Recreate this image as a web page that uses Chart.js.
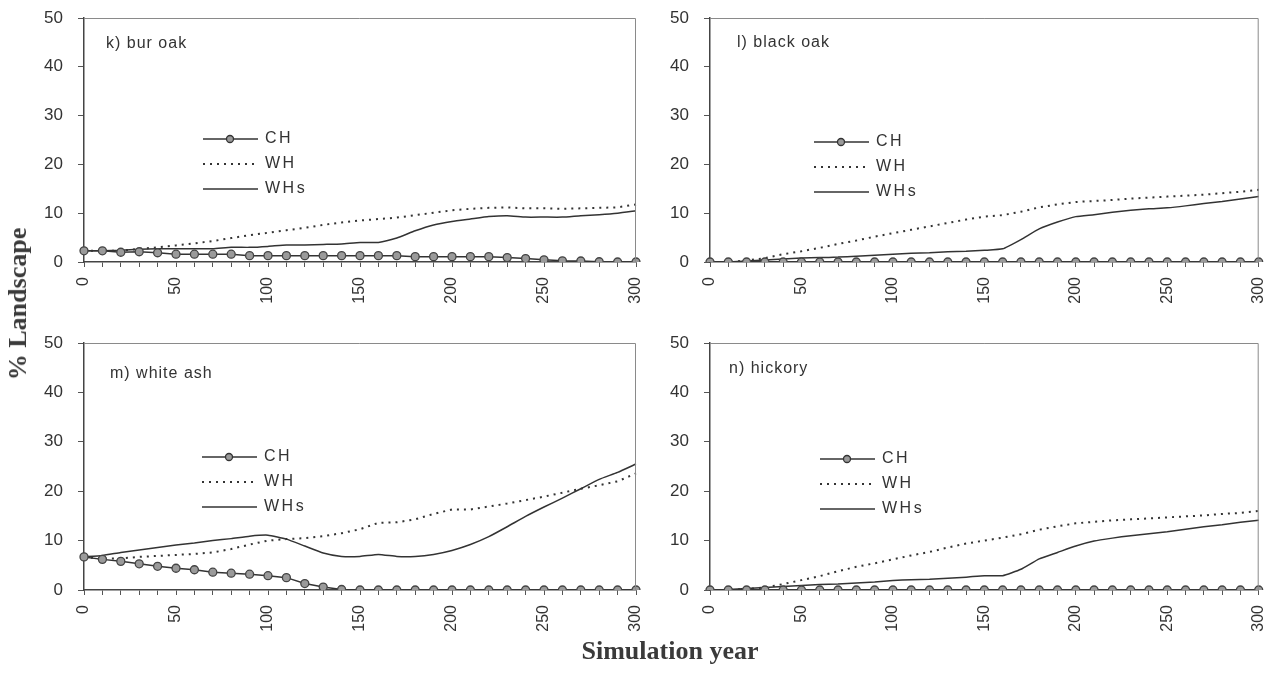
<!DOCTYPE html>
<html>
<head>
<meta charset="utf-8">
<script src="https://cdn.jsdelivr.net/npm/chart.js@4/dist/chart.umd.min.js"></script>
<style>
  html, body { margin: 0; padding: 0; background: #fff; overflow: hidden; }
  body { width: 1264px; height: 673px; position: relative; }
  .panel { position: absolute; }
  .ytitle {
    position: absolute; left: 18px; top: 304px;
    transform: translate(-50%, -50%) rotate(-90deg);
    font: bold 26px "Liberation Serif", "DejaVu Serif", serif; color: #3a3a3a; white-space: nowrap;
  }
  .xtitle {
    position: absolute; left: 670px; top: 651px;
    transform: translate(-50%, -50%);
    font: bold 26px "Liberation Serif", "DejaVu Serif", serif; color: #3a3a3a; white-space: nowrap;
  }
</style>
</head>
<body>
<div class="panel" style="left:24px;top:0px;width:622px;height:314px"><canvas id="c1"></canvas></div>
<div class="panel" style="left:650px;top:0px;width:614px;height:314px"><canvas id="c2"></canvas></div>
<div class="panel" style="left:24px;top:325px;width:622px;height:317px"><canvas id="c3"></canvas></div>
<div class="panel" style="left:650px;top:325px;width:614px;height:317px"><canvas id="c4"></canvas></div>
<div class="ytitle">% Landscape</div>
<div class="xtitle">Simulation year</div>

<script>
// simulation years (every 10 years)
const years = [0, 10, 20, 30, 40, 50, 60, 70, 80, 90, 100, 110, 120, 130, 140, 150,
               160, 170, 180, 190, 200, 210, 220, 230, 240, 250, 260, 270, 280, 290, 300];
const yTicks = [0, 10, 20, 30, 40, 50];
const seriesNames = ["CH", "WH", "WHs"];
const panelTitles = ["k) bur oak", "l) black oak", "m) white ash", "n) hickory"];

// k) bur oak
const burOakCH  = [2.3, 2.3, 2.0, 2.1, 1.9, 1.6, 1.6, 1.6, 1.6, 1.3, 1.3, 1.3, 1.3, 1.3, 1.3, 1.3,
                   1.3, 1.3, 1.1, 1.1, 1.1, 1.1, 1.1, 0.9, 0.7, 0.45, 0.25, 0.2, 0.05, 0, 0];
const burOakWH  = [2.3, 2.3, 2.3, 2.7, 3.0, 3.4, 3.8, 4.3, 4.9, 5.5, 6.0, 6.5, 7.0, 7.6, 8.1, 8.5,
                   8.8, 9.1, 9.6, 10.1, 10.6, 10.9, 11.1, 11.2, 11.0, 11.0, 10.9, 11.0, 11.1, 11.2, 11.8];
const burOakWHs = [2.3, 2.3, 2.4, 2.6, 2.7, 2.7, 2.7, 2.7, 3.0, 3.0, 3.2, 3.5, 3.5, 3.6, 3.7, 4.0,
                   4.0, 4.9, 6.4, 7.6, 8.3, 8.8, 9.3, 9.5, 9.2, 9.2, 9.2, 9.5, 9.7, 10.0, 10.5];

// l) black oak
const blackOakCH  = [0, 0, 0, 0, 0, 0, 0, 0, 0, 0, 0, 0, 0, 0, 0, 0,
                     0, 0, 0, 0, 0, 0, 0, 0, 0, 0, 0, 0, 0, 0, 0];
const blackOakWH  = [0, 0, 0.3, 0.8, 1.6, 2.2, 2.9, 3.7, 4.4, 5.2, 5.9, 6.6, 7.3, 8.0, 8.7, 9.3,
                     9.6, 10.3, 11.2, 11.8, 12.3, 12.5, 12.7, 13.0, 13.2, 13.4, 13.6, 13.8, 14.1, 14.4, 14.8];
const blackOakWHs = [0, 0, 0.2, 0.4, 0.6, 0.8, 0.9, 1.0, 1.2, 1.4, 1.6, 1.8, 1.9, 2.1, 2.2, 2.4,
                     2.7, 4.6, 6.8, 8.2, 9.3, 9.7, 10.2, 10.6, 10.9, 11.1, 11.5, 12.0, 12.4, 12.9, 13.4];

// m) white ash
const whiteAshCH  = [6.7, 6.2, 5.8, 5.3, 4.8, 4.4, 4.1, 3.6, 3.4, 3.2, 2.9, 2.5, 1.3, 0.6, 0.1, 0,
                     0, 0, 0, 0, 0, 0, 0, 0, 0, 0, 0, 0, 0, 0, 0];
const whiteAshWH  = [6.7, 6.3, 6.4, 6.7, 6.9, 7.1, 7.3, 7.6, 8.3, 9.2, 10.0, 10.3, 10.5, 10.9, 11.5, 12.3,
                     13.6, 13.7, 14.3, 15.4, 16.3, 16.3, 16.9, 17.5, 18.2, 18.9, 19.7, 20.5, 21.2, 22.0, 23.6];
const whiteAshWHs = [6.7, 7.0, 7.6, 8.1, 8.6, 9.1, 9.5, 10.0, 10.4, 10.9, 11.1, 10.3, 8.9, 7.5, 6.8, 6.8,
                     7.2, 6.8, 6.8, 7.2, 8.0, 9.2, 10.8, 12.8, 14.9, 16.8, 18.6, 20.5, 22.4, 23.8, 25.5];

// n) hickory
const hickoryCH  = [0, 0, 0, 0, 0, 0, 0, 0, 0, 0, 0, 0, 0, 0, 0, 0,
                    0, 0, 0, 0, 0, 0, 0, 0, 0, 0, 0, 0, 0, 0, 0];
const hickoryWH  = [0, 0, 0.2, 0.5, 1.2, 2.0, 2.8, 3.8, 4.7, 5.4, 6.2, 7.0, 7.7, 8.6, 9.4, 10.0,
                    10.6, 11.3, 12.2, 12.9, 13.5, 13.8, 14.1, 14.3, 14.5, 14.7, 14.9, 15.1, 15.4, 15.6, 16.0];
const hickoryWHs = [0, 0.1, 0.3, 0.5, 0.7, 0.9, 1.1, 1.2, 1.4, 1.6, 1.9, 2.1, 2.2, 2.4, 2.6, 2.9,
                    2.9, 4.2, 6.3, 7.6, 8.9, 9.9, 10.5, 11.0, 11.4, 11.8, 12.3, 12.8, 13.2, 13.7, 14.1];

const INK = "#333";
const FRAME = "#8a8a8a";
const SANS = "'Liberation Sans', Arial, sans-serif";

// frame, panel title and in-plot legend
const panelDecor = {
    id: "panelDecor",
    afterDraw(chart, args, opts) {
        const { ctx, chartArea: a } = chart;
        ctx.save();
        ctx.strokeStyle = FRAME;
        ctx.lineWidth = 1;
        ctx.beginPath();
        ctx.moveTo(a.left, a.top + 0.5);
        ctx.lineTo(a.right - 0.5, a.top + 0.5);
        ctx.lineTo(a.right - 0.5, a.bottom);
        ctx.stroke();

        ctx.fillStyle = INK;
        ctx.textBaseline = "middle";
        ctx.textAlign = "left";
        ctx.font = "16px " + SANS;
        ctx.letterSpacing = "1px";
        ctx.fillText(opts.title, a.left + opts.titleX, a.top + opts.titleY);

        ctx.letterSpacing = "2.5px";
        ctx.strokeStyle = INK;
        const lx = a.left + opts.legX;
        seriesNames.forEach((name, i) => {
            const y = a.top + opts.legY + i * 25;
            ctx.lineWidth = i === 1 ? 2 : 1.5;
            ctx.setLineDash(i === 1 ? [2, 5] : []);
            ctx.beginPath();
            ctx.moveTo(lx, y);
            ctx.lineTo(lx + 55, y);
            ctx.stroke();
            ctx.setLineDash([]);
            if (i === 0) {
                ctx.beginPath();
                ctx.arc(lx + 27, y, 3.5, 0, Math.PI * 2);
                ctx.fillStyle = "#9a9a9a";
                ctx.fill();
                ctx.lineWidth = 1.3;
                ctx.stroke();
                ctx.fillStyle = INK;
            }
            ctx.fillText(name, lx + 62, y);
        });
        ctx.restore();
    }
};

function makePanel(id, title, ch, wh, whs, pos, padRight) {
    new Chart(document.getElementById(id), {
        type: "line",
        data: {
            labels: years,
            datasets: [{
                label: "CH",
                data: ch,
                borderColor: INK,
                borderWidth: 1.5,
                pointRadius: 4,
                pointBackgroundColor: "#9a9a9a",
                pointBorderColor: "#444",
                pointBorderWidth: 1.3,
                tension: 0
            }, {
                label: "WH",
                data: wh,
                borderColor: INK,
                borderWidth: 2,
                borderDash: [2, 5],
                pointRadius: 0,
                tension: 0
            }, {
                label: "WHs",
                data: whs,
                borderColor: INK,
                borderWidth: 1.5,
                pointRadius: 0,
                tension: 0.15
            }]
        },
        options: {
            responsive: true,
            maintainAspectRatio: false,
            animation: false,
            layout: { padding: { top: 18, right: padRight, left: 0, bottom: 0 } },
            plugins: {
                legend: { display: false },
                tooltip: { enabled: false },
                panelDecor: Object.assign({ title: title }, pos)
            },
            scales: {
                x: {
                    type: "category",
                    offset: false,
                    grid: { drawOnChartArea: false, tickLength: 5, color: "#555", offset: false },
                    border: { color: "#444", width: 1.5 },
                    ticks: {
                        autoSkip: false,
                        minRotation: 90,
                        maxRotation: 90,
                        padding: 10,
                        color: INK,
                        font: { family: SANS, size: 16 },
                        callback: function (v, i) { return years[i] % 50 === 0 ? String(years[i]) : ""; }
                    },
                    afterFit: s => { s.height = 52; s.paddingLeft = 0; s.paddingRight = 0; }
                },
                y: {
                    min: yTicks[0],
                    max: yTicks[yTicks.length - 1],
                    grid: { drawOnChartArea: false, tickLength: 6, color: "#555" },
                    border: { color: "#444", width: 1.5 },
                    afterBuildTicks: s => { s.ticks = yTicks.map(v => ({ value: v })); },
                    ticks: { color: INK, font: { family: SANS, size: 17 }, padding: 15 },
                    afterFit: s => { s.width = 60; s.paddingTop = 0; s.paddingBottom = 0; }
                }
            }
        },
        plugins: [panelDecor]
    });
}

makePanel("c1", panelTitles[0], burOakCH, burOakWH, burOakWHs,
          { titleX: 22, titleY: 26, legX: 119, legY: 121 }, 10);
makePanel("c2", panelTitles[1], blackOakCH, blackOakWH, blackOakWHs,
          { titleX: 27, titleY: 25, legX: 104, legY: 124 }, 4);
makePanel("c3", panelTitles[2], whiteAshCH, whiteAshWH, whiteAshWHs,
          { titleX: 26, titleY: 31, legX: 118, legY: 114 }, 10);
makePanel("c4", panelTitles[3], hickoryCH, hickoryWH, hickoryWHs,
          { titleX: 19, titleY: 26, legX: 110, legY: 116 }, 4);
</script>
</body>
</html>
